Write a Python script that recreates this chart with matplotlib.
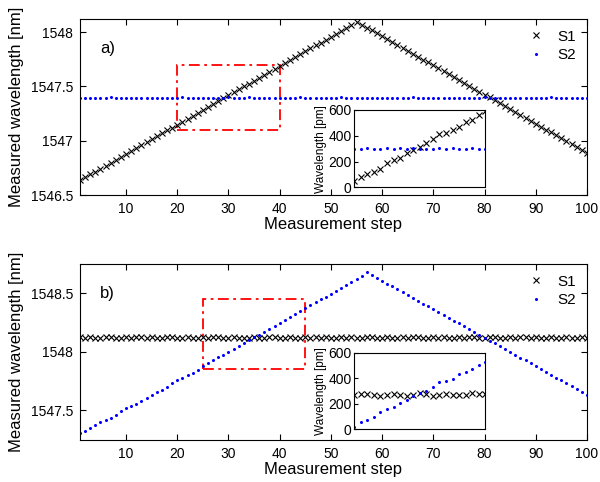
import matplotlib
matplotlib.use('Agg')
import matplotlib.pyplot as plt
from matplotlib.patches import Rectangle
from matplotlib.ticker import FuncFormatter

plt.rcParams['font.family'] = ['Liberation Sans', 'DejaVu Sans']

steps = list(range(1, 101))

# panel a) : S1 swept, S2 fixed
a_s1 = [1546.635, 1546.662, 1546.689, 1546.716, 1546.743, 1546.770, 1546.797, 1546.824, 1546.851, 1546.878,
        1546.905, 1546.932, 1546.959, 1546.986, 1547.013, 1547.040, 1547.067, 1547.094, 1547.121, 1547.148,
        1547.175, 1547.202, 1547.229, 1547.256, 1547.283, 1547.310, 1547.337, 1547.364, 1547.391, 1547.418,
        1547.445, 1547.472, 1547.499, 1547.526, 1547.553, 1547.580, 1547.607, 1547.634, 1547.661, 1547.688,
        1547.715, 1547.742, 1547.769, 1547.796, 1547.823, 1547.850, 1547.877, 1547.904, 1547.931, 1547.958,
        1547.985, 1548.012, 1548.039, 1548.066, 1548.095, 1548.068, 1548.041, 1548.015, 1547.988, 1547.961,
        1547.934, 1547.907, 1547.881, 1547.854, 1547.827, 1547.800, 1547.773, 1547.747, 1547.720, 1547.693,
        1547.666, 1547.639, 1547.613, 1547.586, 1547.559, 1547.532, 1547.505, 1547.479, 1547.452, 1547.425,
        1547.398, 1547.371, 1547.345, 1547.318, 1547.291, 1547.264, 1547.237, 1547.211, 1547.184, 1547.157,
        1547.130, 1547.103, 1547.077, 1547.050, 1547.023, 1546.996, 1546.969, 1546.943, 1546.916, 1546.889]
a_s2 = [1547.396, 1547.394, 1547.397, 1547.395, 1547.393, 1547.396, 1547.398, 1547.395, 1547.394, 1547.397,
        1547.395, 1547.393, 1547.396, 1547.391, 1547.395, 1547.397, 1547.394, 1547.396, 1547.393, 1547.395,
        1547.398, 1547.394, 1547.396, 1547.392, 1547.395, 1547.397, 1547.390, 1547.396, 1547.394, 1547.398,
        1547.395, 1547.393, 1547.396, 1547.399, 1547.394, 1547.396, 1547.392, 1547.395, 1547.397, 1547.394,
        1547.396, 1547.393, 1547.395, 1547.398, 1547.394, 1547.396, 1547.395, 1547.391, 1547.396, 1547.394,
        1547.397, 1547.399, 1547.395, 1547.393, 1547.396, 1547.394, 1547.397, 1547.395, 1547.392, 1547.396,
        1547.394, 1547.397, 1547.395, 1547.393, 1547.396, 1547.398, 1547.394, 1547.395, 1547.397, 1547.393,
        1547.396, 1547.394, 1547.390, 1547.395, 1547.397, 1547.394, 1547.396, 1547.392, 1547.395, 1547.398,
        1547.394, 1547.396, 1547.393, 1547.395, 1547.397, 1547.391, 1547.394, 1547.396, 1547.393, 1547.397,
        1547.395, 1547.394, 1547.398, 1547.396, 1547.393, 1547.395, 1547.397, 1547.394, 1547.396, 1547.395]

# panel b) : S1 fixed, S2 swept
b_s1 = [1548.121, 1548.119, 1548.122, 1548.120, 1548.118, 1548.121, 1548.123, 1548.120, 1548.119, 1548.122,
        1548.120, 1548.124, 1548.121, 1548.119, 1548.122, 1548.120, 1548.117, 1548.121, 1548.123, 1548.120,
        1548.119, 1548.121, 1548.118, 1548.120, 1548.122, 1548.119, 1548.121, 1548.123, 1548.120, 1548.118,
        1548.121, 1548.119, 1548.116, 1548.120, 1548.122, 1548.120, 1548.118, 1548.121, 1548.123, 1548.120,
        1548.119, 1548.122, 1548.120, 1548.118, 1548.121, 1548.120, 1548.123, 1548.119, 1548.121, 1548.120,
        1548.118, 1548.121, 1548.119, 1548.122, 1548.120, 1548.117, 1548.121, 1548.123, 1548.120, 1548.119,
        1548.121, 1548.118, 1548.120, 1548.122, 1548.119, 1548.121, 1548.123, 1548.120, 1548.118, 1548.121,
        1548.119, 1548.122, 1548.120, 1548.117, 1548.121, 1548.119, 1548.122, 1548.124, 1548.120, 1548.118,
        1548.121, 1548.123, 1548.119, 1548.117, 1548.122, 1548.120, 1548.124, 1548.121, 1548.119, 1548.122,
        1548.120, 1548.118, 1548.121, 1548.120, 1548.119, 1548.121, 1548.120, 1548.120, 1548.121, 1548.120]
b_s2 = [1547.306, 1547.323, 1547.343, 1547.371, 1547.394, 1547.414, 1547.431, 1547.457, 1547.491, 1547.514,
        1547.531, 1547.551, 1547.577, 1547.606, 1547.626, 1547.654, 1547.671, 1547.700, 1547.729, 1547.757,
        1547.777, 1547.797, 1547.820, 1547.843, 1547.877, 1547.903, 1547.925, 1547.951, 1547.975, 1548.000,
        1548.024, 1548.049, 1548.072, 1548.098, 1548.121, 1548.146, 1548.172, 1548.195, 1548.221, 1548.245,
        1548.270, 1548.294, 1548.320, 1548.346, 1548.377, 1548.398, 1548.423, 1548.447, 1548.472, 1548.497,
        1548.521, 1548.546, 1548.571, 1548.596, 1548.621, 1548.646, 1548.680, 1548.656, 1548.632, 1548.607,
        1548.583, 1548.558, 1548.534, 1548.510, 1548.485, 1548.461, 1548.436, 1548.412, 1548.387, 1548.363,
        1548.339, 1548.314, 1548.290, 1548.265, 1548.241, 1548.217, 1548.192, 1548.168, 1548.143, 1548.119,
        1548.095, 1548.070, 1548.046, 1548.021, 1547.997, 1547.972, 1547.948, 1547.924, 1547.899, 1547.875,
        1547.850, 1547.826, 1547.802, 1547.777, 1547.753, 1547.728, 1547.704, 1547.680, 1547.655, 1547.631]

# insets (pm)
ins_a_steps = list(range(20, 41))
ins_a_s1 = [49, 83, 103, 122, 145, 186, 212, 230, 264, 290, 315, 341, 375, 411, 419, 445, 471, 509, 522, 561, 592]
ins_a_s2 = [300, 298, 303, 301, 296, 304, 300, 302, 297, 303, 299, 301, 295, 302, 300, 303, 297, 301, 304, 300, 298]
ins_b_steps = list(range(25, 46))
ins_b_s1 = [265, 275, 278, 272, 262, 270, 278, 272, 262, 268, 280, 275, 262, 272, 275, 272, 265, 268, 280, 278, 275]
ins_b_s2 = [18, 56, 74, 100, 132, 156, 177, 206, 230, 257, 283, 302, 333, 370, 376, 397, 429, 450, 471, 503, 524]

# zoom boxes (steps, nm)
box_a = [20, 40, 1547.1, 1547.7]
box_b = [25, 45, 1547.85, 1548.45]

xticks = [10, 20, 30, 40, 50, 60, 70, 80, 90, 100]
yticks_a = [1546.5, 1547, 1547.5, 1548]
yticks_b = [1547.5, 1548, 1548.5]
ins_yticks = [0, 200, 400, 600]

fig = plt.figure(figsize=(6, 4.82), dpi=100)
fmt = FuncFormatter(lambda v, p: '%g' % v)


def main_panel(rect, s1, s2, box, ylim, yticks, tag):
    ax = fig.add_axes(rect)
    ax.plot(steps, s1, 'x', color='k', ms=4.5, mew=0.8, label='S1')
    ax.plot(steps, s2, 'o', color='#0000ff', ms=2.2, mew=0, label='S2')
    ax.add_patch(Rectangle((box[0], box[2]), box[1] - box[0], box[3] - box[2],
                           fill=False, ec='#ff0000', ls=(0, (6, 2.5, 1.5, 2.5)), lw=1.3))
    ax.set_xlim(1, 100)
    ax.set_ylim(*ylim)
    ax.set_xticks(xticks)
    ax.set_yticks(yticks)
    ax.yaxis.set_major_formatter(fmt)
    ax.tick_params(direction='in', top=True, right=True, labelsize=10, length=4, width=0.8, pad=5)
    ax.set_xlabel('Measurement step', fontsize=12, labelpad=1)
    ax.set_ylabel('Measured wavelength [nm]', fontsize=12, labelpad=5)
    ax.text(0.039, 0.835, tag, transform=ax.transAxes, fontsize=12, va='center')
    ax.legend(loc='upper right', frameon=False, handlelength=1, handletextpad=0.9,
              fontsize=11, borderaxespad=0.3, labelspacing=0.3, numpoints=1)
    return ax


def inset(rect, xs, s1, s2):
    ax = fig.add_axes(rect)
    ax.plot(xs, s1, 'x', color='k', ms=4, mew=0.8)
    ax.plot(xs, s2, 'o', color='#0000ff', ms=2.2, mew=0)
    ax.set_xlim(xs[0], xs[-1])
    ax.set_ylim(0, 600)
    ax.set_xticks([])
    ax.set_yticks(ins_yticks)
    ax.tick_params(direction='in', labelsize=10, length=3, width=0.8, pad=2)
    ax.set_ylabel('Wavelength [pm]', fontsize=8.5, labelpad=1)
    return ax


main_panel([0.1333, 0.5954, 0.845, 0.3651], a_s1, a_s2, box_a, (1546.5, 1548.12), yticks_a, 'a)')
inset([0.5905, 0.6114, 0.2183, 0.1604], ins_a_steps, ins_a_s1, ins_a_s2)
main_panel([0.1333, 0.0871, 0.845, 0.3651], b_s1, b_s2, box_b, (1547.243, 1548.75), yticks_b, 'b)')
inset([0.5905, 0.1093, 0.2183, 0.1593], ins_b_steps, ins_b_s1, ins_b_s2)

fig.savefig('out.png', dpi=100)
